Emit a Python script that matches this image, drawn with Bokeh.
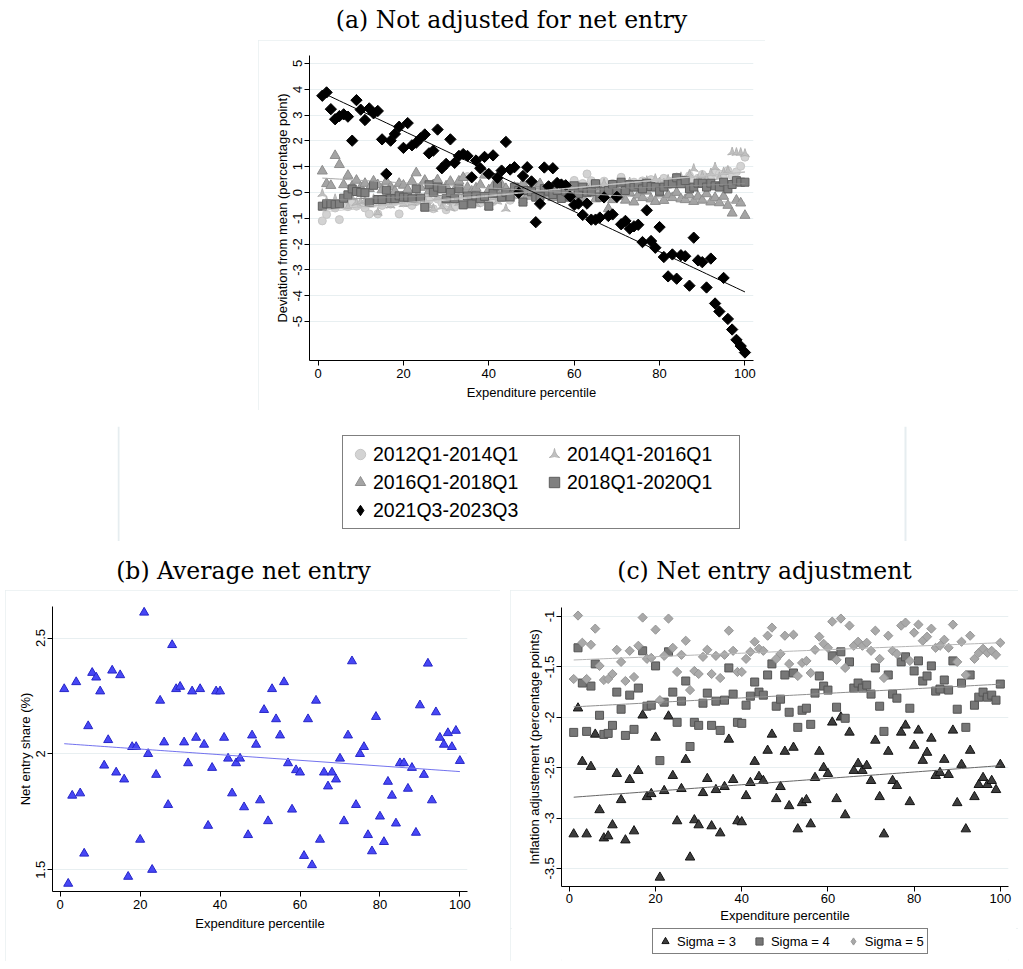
import numpy as np
from bokeh.plotting import figure
from bokeh.models import (FixedTicker, Legend, LegendItem, Spacer, Range1d, Label, Span)
from bokeh.layouts import column, row
from bokeh.embed import file_html
from bokeh.resources import INLINE

# ---------------- data ----------------
pct = list(range(1, 101))

dev_2012q1_2014q1 = [
    -1.10, -0.85, -0.45, -0.60, -1.05, -0.40, -0.55, -0.35, -0.53, -0.45,
    -0.60, -0.83, -0.40, -0.83, -0.50, -0.30, -0.45, -0.35, -0.83, -0.40,
    -0.25, -0.50, -0.35, -0.20, -0.45, -0.30, -0.63, -0.25, -0.40, -0.67,
    -0.35, -0.57, -0.20, -0.45, 0.62, -0.30, -0.10, -0.40, -0.25, -0.15,
    -0.35, -0.05, -0.20, 0.10, -0.30, -0.10, 0.20, -0.15, 0.05, -0.05,
    0.10, -0.10, 0.15, 0.00, 0.25, 0.05, 0.10, 0.30, 0.15, 0.47,
    0.20, 0.35, 0.72, 0.46, 0.15, 0.30, 0.44, 0.10, 0.35, 0.25,
    0.59, 0.20, 0.34, 0.40, 0.25, 0.45, 0.30, 0.50, 0.35, 0.40,
    0.55, 0.30, 0.45, 0.60, 0.40, 0.50, 0.65, 0.45, 0.55, 0.70,
    0.59, 0.50, 0.75, 0.72, 0.55, 0.85, 0.65, 0.80, 1.02, 1.37]

dev_2014q1_2016q1 = [
    -0.05, -0.35, -0.50, -0.25, -0.45, -0.30, -0.55, -0.20, -0.40, -0.35,
    -0.30, -0.45, -0.25, -0.78, -0.40, -0.20, -0.50, -0.30, -0.35, -0.45,
    -0.25, -0.40, -0.15, -0.35, -0.30, -0.50, -0.63, -0.20, -0.55, -0.35,
    -0.60, -0.25, -0.40, -0.15, -0.35, -0.20, -0.45, -0.10, -0.30, -0.55,
    -0.20, -0.35, -0.05, -0.63, -0.25, 0.00, -0.15, -0.30, 0.05, -0.10,
    -0.20, 0.05, -0.15, 0.10, -0.05, 0.15, 0.00, 0.20, -0.10, 0.10,
    0.25, 0.05, 0.15, 0.30, 0.10, 0.20, 0.35, 0.05, 0.25, 0.15,
    0.30, 0.20, 0.40, 0.25, 0.15, 0.35, 0.45, 0.30, 0.53, 0.40,
    0.35, 0.50, 0.30, 0.45, 0.60, 0.40, 0.70, 0.92, 0.50, 0.65,
    0.55, 0.75, 0.98, 0.60, 0.79, 0.85, 1.56, 1.54, 1.54, 1.50]

dev_2016q1_2018q1 = [
    0.83, 0.34, 0.27, 1.43, 1.08, 0.30, 0.66, 0.25, 0.47, 0.20,
    0.35, 0.15, 0.44, 0.30, 0.10, 0.43, 0.22, 0.05, 0.35, 0.28,
    0.12, 0.43, 0.76, 0.20, 0.47, 0.05, 0.30, 0.49, 0.15, 0.25,
    0.43, 0.10, 0.44, 0.58, 0.20, 0.05, 0.17, 0.30, 0.67, 0.10,
    0.25, -0.05, 0.30, 0.15, -0.10, 0.20, 0.05, 0.35, -0.15, 0.10,
    0.25, 0.34, -0.05, 0.15, -0.20, 0.10, 0.00, -0.10, 0.20, -0.15,
    0.05, -0.20, 0.15, -0.05, -0.25, 0.10, -0.10, -0.63, -0.28, 0.05,
    -0.15, -0.30, 0.00, -0.37, -0.10, -0.20, 0.05, -0.25, -0.35, -0.05,
    -0.31, -0.10, -0.20, 0.00, -0.25, -0.28, -0.10, -0.35, -0.15, -0.30,
    -0.05, -0.37, -0.20, -0.40, -0.15, -0.50, -0.80, -0.30, -0.41, -0.89]

dev_2018q1_2020q1 = [
    -0.53, -0.44, -0.44, -0.46, -0.44, -0.22, -0.09, 0.14, 0.04, 0.01,
    -0.01, -0.39, 0.28, -0.27, -0.27, 0.09, -0.24, -0.24, -0.13, -0.18,
    -0.18, -0.24, 0.14, -0.22, -0.57, 0.30, 0.01, 0.21, 0.14, -0.24,
    0.00, -0.24, 0.14, -0.48, -0.13, -0.44, -0.13, -0.24, -0.15, -0.53,
    -0.03, 0.26, -0.18, 0.00, -0.17, 0.21, 0.08, -0.37, 0.08, 0.03,
    -0.18, -0.15, 0.15, 0.05, -0.08, 0.08, -0.23, 0.05, -0.18, 0.26,
    -0.05, 0.21, 0.01, 0.05, 0.34, -0.18, 0.05, 0.08, 0.31, 0.01,
    0.40, 0.08, 0.31, 0.21, 0.31, 0.14, 0.36, 0.23, 0.21, 0.05,
    0.21, 0.34, 0.34, 0.57, 0.34, 0.46, 0.14, 0.21, 0.36, 0.36,
    0.21, 0.36, 0.26, 0.21, 0.40, 0.14, 0.31, 0.46, 0.40, 0.40]

dev_2021q3_2023q3 = [
    3.75, 3.88, 3.23, 2.84, 2.96, 3.03, 2.94, 2.01, 3.58, 3.21,
    2.81, 3.26, 3.07, 3.16, 2.06, 0.72, 2.01, 2.27, 2.55, 1.73,
    2.69, 1.83, 1.93, 2.10, 2.25, 1.52, 1.62, 2.44, 0.94, 1.11,
    2.06, 1.15, 1.42, 1.49, 1.42, 0.59, 1.24, 0.94, 1.38, 0.72,
    1.44, 0.57, 0.85, 1.96, 0.89, 0.98, -0.01, 0.64, 0.98, 0.43,
    -1.15, -0.44, 0.97, 0.24, 0.94, 0.37, 0.31, 0.28, -0.15, -0.48,
    -0.43, -0.87, -0.43, -1.05, -1.05, -0.97, -0.19, -0.91, -0.85, -0.17,
    -1.23, -1.10, -1.40, -1.31, -1.25, -1.92, -0.69, -1.88, -2.14, -1.34,
    -2.50, -3.25, -2.40, -3.34, -2.43, -2.47, -3.61, -1.75, -2.63, -2.70,
    -3.68, -2.56, -4.30, -4.61, -3.31, -4.90, -5.31, -5.71, -5.95, -6.20]

net_entry_share = [
    2.28, 1.44, 1.82, 2.31, 1.83, 1.57, 2.12, 2.35, 2.33, 2.27,
    1.95, 2.06, 2.36, 1.92, 2.34, 1.89, 1.47, 2.03, 2.03, 1.63,
    2.61, 2.00, 1.50, 1.91, 2.23, 2.05, 1.78, 2.47, 2.28, 2.29,
    2.05, 1.96, 2.27, 2.07, 2.28, 2.04, 1.69, 1.94, 2.27, 2.27,
    2.07, 1.98, 1.83, 1.96, 1.98, 1.77, 1.65, 2.08, 2.04, 1.80,
    2.19, 1.71, 2.28, 2.15, 2.08, 2.31, 1.96, 1.76, 1.93, 1.92,
    1.56, 2.15, 1.52, 2.23, 1.63, 1.92, 1.86, 1.92, 1.89, 1.98,
    1.71, 2.08, 2.40, 1.78, 2.00, 2.03, 1.65, 1.58, 2.16, 1.73,
    1.62, 1.88, 1.82, 1.70, 1.96, 1.96, 1.85, 1.94, 1.66, 2.21,
    1.91, 2.39, 1.80, 2.18, 2.07, 2.04, 2.09, 2.03, 2.10, 1.97]

adj_sigma3 = [
    -3.16, -1.91, -2.44, -3.16, -2.49, -2.17, -2.92, -3.20, -3.18, -3.07,
    -2.56, -2.82, -3.22, -2.62, -3.13, -2.53, -1.98, -2.79, -2.76, -2.20,
    -3.59, -2.73, -1.99, -2.58, -3.03, -2.71, -2.42, -3.39, -3.02, -3.07,
    -2.75, -2.61, -3.08, -2.72, -3.15, -2.69, -2.22, -2.62, -3.03, -3.04,
    -2.78, -2.65, -2.44, -2.59, -2.63, -2.33, -2.17, -2.81, -2.69, -2.34,
    -2.88, -2.30, -3.11, -2.85, -2.82, -3.06, -2.60, -2.34, -2.50, -2.56,
    -2.05, -2.81, -2.00, -2.97, -2.15, -2.53, -2.46, -2.53, -2.48, -2.63,
    -2.23, -2.79, -3.16, -2.34, -2.63, -2.68, -2.15, -2.08, -2.84, -2.28,
    -2.13, -2.43, -2.35, -2.21, -2.58, -2.55, -2.42, -2.57, -2.13, -2.85,
    -2.47, -3.11, -2.33, -2.79, -2.67, -2.60, -2.67, -2.63, -2.72, -2.47]

adj_sigma4 = [
    -2.15, -1.31, -1.66, -2.14, -1.69, -1.47, -1.98, -2.17, -2.16, -2.08,
    -1.75, -1.92, -2.18, -1.78, -2.12, -1.71, -1.34, -1.89, -1.88, -1.49,
    -2.43, -1.85, -1.35, -1.75, -2.05, -1.84, -1.64, -2.29, -2.05, -2.08,
    -1.86, -1.76, -2.08, -1.84, -2.13, -1.83, -1.51, -1.77, -2.05, -2.06,
    -1.88, -1.79, -1.65, -1.75, -1.78, -1.58, -1.47, -1.89, -1.82, -1.58,
    -1.95, -1.56, -2.10, -1.93, -1.91, -2.07, -1.76, -1.59, -1.69, -1.73,
    -1.39, -1.90, -1.35, -2.01, -1.45, -1.71, -1.66, -1.71, -1.68, -1.77,
    -1.51, -1.89, -2.14, -1.58, -1.77, -1.81, -1.45, -1.40, -1.91, -1.54,
    -1.44, -1.64, -1.59, -1.49, -1.74, -1.72, -1.63, -1.73, -1.44, -1.92,
    -1.66, -2.10, -1.58, -1.88, -1.80, -1.75, -1.80, -1.78, -1.83, -1.67]

adj_sigma5 = [
    -1.62, -0.99, -1.26, -1.62, -1.28, -1.12, -1.49, -1.63, -1.62, -1.57,
    -1.33, -1.45, -1.64, -1.34, -1.60, -1.29, -1.01, -1.42, -1.41, -1.13,
    -1.83, -1.39, -1.02, -1.31, -1.55, -1.38, -1.24, -1.73, -1.54, -1.57,
    -1.40, -1.33, -1.57, -1.39, -1.61, -1.38, -1.14, -1.34, -1.55, -1.55,
    -1.42, -1.35, -1.25, -1.32, -1.34, -1.19, -1.11, -1.42, -1.37, -1.19,
    -1.47, -1.18, -1.59, -1.46, -1.44, -1.56, -1.33, -1.20, -1.27, -1.31,
    -1.05, -1.43, -1.02, -1.51, -1.09, -1.29, -1.25, -1.29, -1.26, -1.34,
    -1.14, -1.42, -1.61, -1.19, -1.34, -1.37, -1.09, -1.06, -1.44, -1.16,
    -1.08, -1.24, -1.20, -1.12, -1.31, -1.29, -1.23, -1.31, -1.08, -1.45,
    -1.25, -1.58, -1.19, -1.42, -1.36, -1.32, -1.36, -1.34, -1.38, -1.26]

x_ticks = [0, 20, 40, 60, 80, 100]
a_y_ticks = [-5, -4, -3, -2, -1, 0, 1, 2, 3, 4, 5]
b_y_ticks = [1.5, 2, 2.5]
c_y_ticks = [-3.5, -3, -2.5, -2, -1.5, -1]

series_a_labels = ["2012Q1-2014Q1", "2014Q1-2016Q1", "2016Q1-2018Q1",
                   "2018Q1-2020Q1", "2021Q3-2023Q3"]
sigma_labels = ["Sigma = 3", "Sigma = 4", "Sigma = 5"]

titles = ["(a) Not adjusted for net entry", "(b) Average net entry",
          "(c) Net entry adjustment"]
x_label = "Expenditure percentile"
a_y_label = "Deviation from mean (percentage point)"
b_y_label = "Net entry share (%)"
c_y_label = "Inflation adjustement (percentage points)"

# ---------------- style ----------------
FONT = "Liberation Sans"
SERIF = "DejaVu Serif"
GRID = "#e8eff1"
FRAME = "#e6edf0"
REGION = {"outline": "2px solid #e9eff1", "outline-offset": "-2px"}


def fmt(t):
    return f"{t:g}"


def style_axes(p, yticks, ylabel, x_std=(3, 4)):
    p.xaxis.ticker = FixedTicker(ticks=x_ticks)
    p.yaxis.ticker = FixedTicker(ticks=yticks)
    p.xaxis.major_label_overrides = {t: fmt(t) for t in x_ticks}
    p.yaxis.major_label_overrides = {t: fmt(t) for t in yticks}
    p.yaxis.major_label_orientation = "vertical"
    p.xaxis.axis_label = x_label
    p.yaxis.axis_label = ylabel
    for ax in (p.xaxis[0], p.yaxis[0]):
        ax.axis_line_color = "black"
        ax.axis_line_width = 1
        ax.major_tick_line_color = "black"
        ax.major_tick_out = 5
        ax.major_tick_in = 0
        ax.minor_tick_out = 0
        ax.minor_tick_in = 0
        ax.major_label_text_font = FONT
        ax.major_label_text_font_size = "13px"
        ax.major_label_text_color = "black"
        ax.axis_label_text_font = FONT
        ax.axis_label_text_font_size = "13px"
        ax.axis_label_text_font_style = "normal"
        ax.axis_label_text_color = "black"
    p.xaxis.major_label_standoff = x_std[0]
    p.xaxis.axis_label_standoff = x_std[1]
    p.yaxis.major_label_standoff = 2
    p.yaxis.axis_label_standoff = 1
    p.xgrid.visible = False
    p.ygrid.grid_line_color = GRID
    p.ygrid.grid_line_width = 1
    p.outline_line_color = None
    p.background_fill_color = "white"
    p.border_fill_color = "white"


def blank_fig(width, height, x0=0):
    # empty canvas (no axes, no title panel) used for titles and legends; its range is in pixels
    t = figure(width=width, height=height, x_range=Range1d(x0, x0 + width), y_range=Range1d(0, height),
               x_axis_type=None, y_axis_type=None, min_border=0, outline_line_color=None,
               title_location=None, toolbar_location=None, output_backend="svg")
    t.grid.visible = False
    return t


def title_fig(width, height, specs):
    t = blank_fig(width, height)
    for text, x, y in specs:
        t.add_layout(Label(x=x, y=y, text=text, text_align="center", text_baseline="alphabetic",
                           text_font=SERIF, text_font_size="23.5px", text_color="black"))
    return t


def fit(y):
    coef = np.polyfit(pct, y, 1)
    return np.polyval(coef, pct)


LEG_COMMON = dict(border_line_color="black", border_line_width=1, background_fill_color="white",
                  background_fill_alpha=1, label_text_font=FONT, label_text_color="black",
                  title_text_font_size="1px", title_standoff=0, margin=0)

# ---------------- panel (a) ----------------
ta = title_fig(1015, 40, [(titles[0], 511, 21)])

pa = figure(width=507, height=370, x_range=Range1d(-2, 102), y_range=Range1d(-6.51, 5.31),
            output_backend="svg", toolbar_location=None, styles=REGION,
            min_border_left=51, min_border_right=12, min_border_top=15, min_border_bottom=50)
style_axes(pa, a_y_ticks, a_y_label)

mk_c = dict(marker="circle", fill_color="#d3d3d3", line_color="#c6c6c6")
mk_p = dict(marker="triangle_pin", fill_color="#c0c0c0", line_color="#b2b2b2")
mk_t = dict(marker="triangle", fill_color="#a4a4a4", line_color="#8e8e8e")
mk_s = dict(marker="square", fill_color="#808080", line_color="#5e5e5e")
mk_d = dict(fill_color="black", line_color="black")

pa.scatter(pct, dev_2012q1_2014q1, size=8, **mk_c)
pa.scatter(pct, dev_2014q1_2016q1, size=9, **mk_p)
pa.scatter(pct, dev_2016q1_2018q1, size=10, **mk_t)
pa.scatter(pct, dev_2018q1_2020q1, size=8, **mk_s)
pa.scatter(pct, dev_2021q3_2023q3, marker="square", angle=np.pi / 4, size=8, **mk_d)

pa.line(pct, fit(dev_2012q1_2014q1), line_color="#cccccc", line_width=1)
pa.line(pct, fit(dev_2014q1_2016q1), line_color="#bdbdbd", line_width=1)
pa.line(pct, fit(dev_2016q1_2018q1), line_color="#a8a8a8", line_width=1)
pa.line(pct, fit(dev_2018q1_2020q1), line_color="#8c8c8c", line_width=1)
pa.line(pct, fit(dev_2021q3_2023q3), line_color="black", line_width=1)

# legend of panel (a) in its own region; its glyph renderers hold the same
# series but fall outside this canvas's pixel range, so only the keys show
pl = blank_fig(790, 115, x0=1000)
pl.add_layout(Span(location=1001, dimension="height", line_color=FRAME, line_width=2))
pl.add_layout(Span(location=1788, dimension="height", line_color=FRAME, line_width=2))
l_c = pl.scatter(pct, dev_2012q1_2014q1, **mk_c)
l_p = pl.scatter(pct, dev_2014q1_2016q1, **mk_p)
l_t = pl.scatter(pct, dev_2016q1_2018q1, **mk_t)
l_s = pl.scatter(pct, dev_2018q1_2020q1, **mk_s)
l_d = pl.scatter(pct, dev_2021q3_2023q3, marker="diamond", **mk_d)
leg_a = Legend(items=[
    LegendItem(label=series_a_labels[0], renderers=[l_c]),
    LegendItem(label=series_a_labels[2], renderers=[l_t]),
    LegendItem(label=series_a_labels[4], renderers=[l_d]),
    LegendItem(label=series_a_labels[1], renderers=[l_p]),
    LegendItem(label=series_a_labels[3], renderers=[l_s]),
], location=(225, 12), ncols=2, orientation="vertical",
    label_text_font_size="19.5px", glyph_width=26, glyph_height=28, label_height=24,
    label_width=168, label_standoff=0, spacing=0, padding=4, **LEG_COMMON)
pl.add_layout(leg_a)

# ---------------- panel (b) ----------------
tbc = title_fig(1015, 49, [(titles[1], 243, 20), (titles[2], 764, 20)])

pb = figure(width=495, height=371, x_range=Range1d(-1.93, 101.9), y_range=Range1d(1.406, 2.636),
            output_backend="svg", toolbar_location=None, styles=REGION,
            min_border_left=47, min_border_right=33, min_border_top=16, min_border_bottom=70)
style_axes(pb, b_y_ticks, b_y_label)
pb.scatter(pct, net_entry_share, marker="triangle", size=9,
           fill_color="#4747f5", line_color="#2525c8")
pb.line(pct, fit(net_entry_share), line_color="#7272ee", line_width=1)

# ---------------- panel (c) ----------------
pc = figure(width=508, height=338, x_range=Range1d(-1.83, 101.9), y_range=Range1d(-3.68, -0.91),
            output_backend="svg", toolbar_location=None,
            min_border_left=51, min_border_right=10, min_border_top=17, min_border_bottom=42)
style_axes(pc, c_y_ticks, c_y_label, x_std=(2, 2))
mk_3 = dict(marker="triangle", fill_color="#3d3d3d", line_color="#141414")
mk_4 = dict(marker="square", fill_color="#777777", line_color="#545454")
mk_5 = dict(fill_color="#a9a9a9", line_color="#969696")
pc.scatter(pct, adj_sigma3, size=9.5, **mk_3)
pc.scatter(pct, adj_sigma4, size=8, **mk_4)
pc.scatter(pct, adj_sigma5, marker="square", angle=np.pi / 4, size=6.5, **mk_5)
pc.line(pct, fit(adj_sigma3), line_color="#666666", line_width=1)
pc.line(pct, fit(adj_sigma4), line_color="#8f8f8f", line_width=1)
pc.line(pct, fit(adj_sigma5), line_color="#b5b5b5", line_width=1)

plc = blank_fig(508, 33, x0=1000)
k3 = plc.scatter(pct, adj_sigma3, **mk_3)
k4 = plc.scatter(pct, adj_sigma4, **mk_4)
k5 = plc.scatter(pct, adj_sigma5, marker="diamond", **mk_5)
leg_c = Legend(items=[
    LegendItem(label=sigma_labels[0], renderers=[k3]),
    LegendItem(label=sigma_labels[1], renderers=[k4]),
    LegendItem(label=sigma_labels[2], renderers=[k5]),
], location=(91, 7), orientation="horizontal",
    label_text_font_size="13px", glyph_width=18, glyph_height=18, label_height=18,
    label_standoff=3, spacing=14, padding=3, **LEG_COMMON)
plc.add_layout(leg_c)

right_c = column(pc, plc, styles=REGION)

layout = column(
    ta,
    row(Spacer(width=258, height=370), pa),
    Spacer(width=10, height=16),
    row(Spacer(width=117, height=115), pl),
    tbc,
    row(Spacer(width=5, height=371), pb, Spacer(width=10, height=371), right_c),
)

open("out.html", "w").write(file_html(layout, INLINE))
